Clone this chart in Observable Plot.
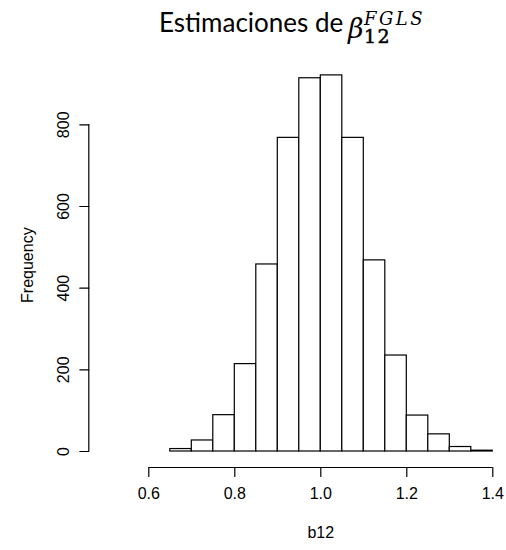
<!DOCTYPE html>
<html><head><meta charset="utf-8">
<script src="https://cdn.jsdelivr.net/npm/d3@7"></script>
<script src="https://cdn.jsdelivr.net/npm/@observablehq/plot@0.6"></script>
<style>
body{margin:0;background:#fff;}
#wrap{width:506px;}
#title{position:relative;height:60px;width:506px;color:#000;}
#title .main{position:absolute;left:159px;top:2px;font-family:Lato;font-size:26px;line-height:40px;white-space:nowrap;}
#title .beta{position:absolute;left:348px;top:15px;font-family:"DejaVu Serif";font-style:italic;font-size:27px;line-height:27px;}
#title .sup{position:absolute;left:364px;top:10px;font-family:"DejaVu Serif";font-style:italic;font-size:18px;line-height:18px;letter-spacing:2.5px;}
#title .sub{position:absolute;left:364px;top:27px;font-family:"DejaVu Serif";font-size:19px;line-height:19px;letter-spacing:1.5px;-webkit-text-stroke:0.5px #000;}
</style></head>
<body><div id="wrap">
<div id="title"><span class="main">Estimaciones de</span><span class="beta">β</span><span class="sup">FGLS</span><span class="sub">12</span></div>
<div id="chart"></div></div>
<script>
const binLo = [0.65, 0.70, 0.75, 0.80, 0.85, 0.90, 0.95, 1.00, 1.05, 1.10, 1.15, 1.20, 1.25, 1.30, 1.35];
const binHi = [0.70, 0.75, 0.80, 0.85, 0.90, 0.95, 1.00, 1.05, 1.10, 1.15, 1.20, 1.25, 1.30, 1.35, 1.40];
const counts = [6, 27, 89, 214, 458, 768, 914, 921, 768, 468, 235, 88, 42, 11, 2];
const xTicks = [0.6, 0.8, 1.0, 1.2, 1.4];
const xTickLabels = ["0.6", "0.8", "1.0", "1.2", "1.4"];
const yTicks = [0, 200, 400, 600, 800];
const xLabel = "b12";
const yLabel = "Frequency";

const bins = binLo.map((lo, i) => ({lo, hi: binHi[i], count: counts[i]}));
const xt = xTicks.map((v, i) => ({v, label: xTickLabels[i]}));
const tickShape = {draw(context, l) { context.moveTo(0, 0); context.lineTo(0, -l); }};

const plot = Plot.plot({
  width: 506, height: 490,
  marginLeft: 148.3, marginRight: 13.7, marginTop: 64.3, marginBottom: 99,
  x: {domain: [0.6, 1.4], axis: null},
  y: {domain: [0, 800], axis: null},
  style: {fontFamily: "'Liberation Sans', Arial, sans-serif", fontSize: "16px", color: "#000", background: "#fff", overflow: "visible"},
  marks: [
    Plot.rectY(bins, {x1: "lo", x2: "hi", y1: 0, y2: "count", fill: "white", stroke: "#000", strokeWidth: 1.2, inset: 0}),
    // y axis
    Plot.ruleX([0.6], {y1: 0, y2: 800, dx: -60, stroke: "#000", strokeWidth: 1.2}),
    Plot.vector(yTicks, {y: d => d, frameAnchor: "left", dx: -60, length: 9, rotate: -90, anchor: "start", shape: tickShape, stroke: "#000", strokeWidth: 1.2}),
    Plot.text(yTicks, {y: d => d, text: d => String(d), frameAnchor: "left", dx: -85, rotate: -90, textAnchor: "middle", fontSize: 16, fill: "#000"}),
    Plot.text([yLabel], {text: d => d, frameAnchor: "left", dx: -121, dy: -23, rotate: -90, textAnchor: "middle", fontSize: 16, fill: "#000"}),
    // x axis
    Plot.ruleY([0], {x1: 0.6, x2: 1.4, dy: 16, stroke: "#000", strokeWidth: 1.2}),
    Plot.vector(xt, {x: "v", frameAnchor: "bottom", dy: 16, length: 9, rotate: 180, anchor: "start", shape: tickShape, stroke: "#000", strokeWidth: 1.2}),
    Plot.text(xt, {x: "v", text: "label", frameAnchor: "bottom", dy: 47, textAnchor: "middle", fontSize: 16, fill: "#000"}),
    Plot.text([xLabel], {text: d => d, frameAnchor: "bottom", dy: 86, textAnchor: "middle", fontSize: 16, fill: "#000"})
  ]
});
document.getElementById("chart").appendChild(plot);
</script>
</body></html>
